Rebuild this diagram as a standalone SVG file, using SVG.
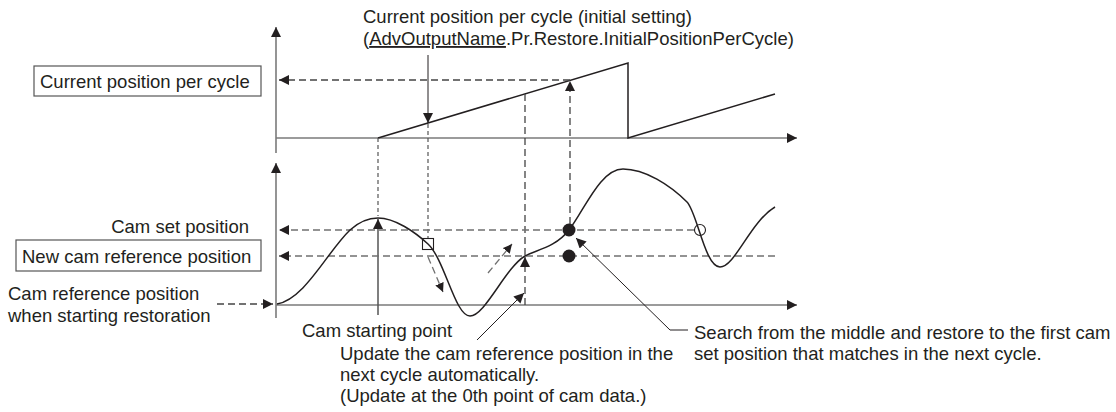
<svg xmlns="http://www.w3.org/2000/svg" width="1116" height="412" viewBox="0 0 1116 412">
<style>
text{font-family:"Liberation Sans",Arial,sans-serif;font-size:18.5px;fill:#231f20}
.axis{stroke:#7a7a7a;stroke-width:1.6;fill:none}
.curve{stroke:#231f20;stroke-width:1.5;fill:none}
.dash{stroke:#444;stroke-width:1.3;stroke-dasharray:7 4;fill:none}
.dashg{stroke:#707070;stroke-width:1.3;stroke-dasharray:7 4;fill:none}
.fine{stroke:#555;stroke-width:1.2;stroke-dasharray:4 3;fill:none}
.lead{stroke:#231f20;stroke-width:1;fill:none}
.solid{stroke:#555;stroke-width:1.5;fill:none}
.box{fill:#fff;stroke:#555;stroke-width:1.2}
</style>
<defs>
<marker id="ah" viewBox="0 0 10 10" markerUnits="userSpaceOnUse" markerWidth="10" markerHeight="10" refX="10" refY="5" orient="auto">
<path d="M0,0 L10,5 L0,10 z" fill="#231f20"/>
</marker>
<marker id="as" viewBox="0 0 10 10" markerUnits="userSpaceOnUse" markerWidth="9" markerHeight="9" refX="10" refY="5" orient="auto">
<path d="M0,0 L10,5 L0,10 z" fill="#231f20"/>
</marker>
</defs>

<g id="axes">
<line class="axis" x1="276" y1="153" x2="276" y2="27" marker-end="url(#ah)"/>
<line class="axis" x1="276" y1="138" x2="797" y2="138" marker-end="url(#ah)"/>
<line class="axis" x1="276" y1="318" x2="276" y2="163" marker-end="url(#ah)"/>
<line class="axis" x1="276" y1="305" x2="797" y2="305" marker-end="url(#ah)"/>
</g>

<g id="position-per-cycle-ramp">
<path class="curve" d="M378,138 L628,63 L628,138 L775,94"/>
</g>

<g id="connectors">
<line class="dash" x1="570" y1="80" x2="279" y2="80" marker-end="url(#ah)"/>
<line class="dash" x1="570" y1="224" x2="570" y2="81" marker-end="url(#ah)"/>
<line class="lead" x1="428" y1="55" x2="428" y2="123" marker-end="url(#ah)"/>
<line class="fine" x1="428" y1="124" x2="428" y2="238"/>
<line class="fine" x1="378" y1="138" x2="378" y2="216"/>
<line class="solid" x1="378" y1="315" x2="378" y2="219" marker-end="url(#ah)"/>
<line class="dash" x1="525" y1="94" x2="525" y2="256"/>
<line class="dash" x1="525" y1="305" x2="525" y2="257" marker-end="url(#ah)"/>
<line class="dashg" x1="694" y1="230" x2="279" y2="230" marker-end="url(#ah)"/>
<line class="dashg" x1="775" y1="256" x2="279" y2="256" marker-end="url(#ah)"/>
<line class="dash" x1="217" y1="304" x2="273" y2="304" marker-end="url(#ah)"/>
<line class="dashg" x1="428" y1="257" x2="443" y2="292" marker-end="url(#as)"/>
<line class="dashg" x1="488" y1="273" x2="512" y2="244" marker-end="url(#as)"/>
<polyline class="lead" points="688,330 670,330 576,238" marker-end="url(#ah)"/>
<line class="lead" x1="477" y1="340" x2="524" y2="293" marker-end="url(#ah)"/>
</g>

<g id="cam-curve">
<path class="curve" d="M277,304 C305,299 327,252 350,230 C360,221 368,218 378,218 C395,218 415,232 428,244 C445,260 455,316 470,316 C485,316 505,268 525,256 C535,250 555,248 569,230 C584,211 600,169 623,169 C645,169 670,185 687,202 C697,212 705,267 720,267 C735,267 750,222 775,207"/>
<rect x="422.5" y="238.5" width="11" height="11" fill="none" stroke="#231f20" stroke-width="1.1"/>
<circle cx="700" cy="230" r="5.5" fill="none" stroke="#231f20" stroke-width="1.1"/>
<circle cx="569" cy="230" r="6.5" fill="#231f20"/>
<circle cx="569" cy="256" r="6.5" fill="#231f20"/>
</g>

<g id="label-initial-setting">
<text x="363" y="23">Current position per cycle (initial setting)</text>
<text x="363" y="45">(<tspan text-decoration="underline">AdvOutputName</tspan>.Pr.Restore.InitialPositionPerCycle)</text>
</g>

<g id="box-current-position">
<rect class="box" x="34" y="66" width="227" height="30"/>
<text x="40" y="88">Current position per cycle</text>
</g>

<g id="label-cam-set">
<text x="249" y="233" text-anchor="end">Cam set position</text>
</g>

<g id="box-new-cam-ref">
<rect class="box" x="16" y="240" width="245" height="31"/>
<text x="22" y="263">New cam reference position</text>
</g>

<g id="label-cam-ref-start">
<text x="8" y="300">Cam reference position</text>
<text x="8" y="322">when starting restoration</text>
</g>

<g id="label-cam-start">
<text x="302" y="337">Cam starting point</text>
</g>

<g id="label-update">
<text x="340" y="360">Update the cam reference position in the</text>
<text x="340" y="381">next cycle automatically.</text>
<text x="340" y="402">(Update at the 0th point of cam data.)</text>
</g>

<g id="label-search">
<text x="694" y="339">Search from the middle and restore to the first cam</text>
<text x="694" y="360">set position that matches in the next cycle.</text>
</g>
</svg>
